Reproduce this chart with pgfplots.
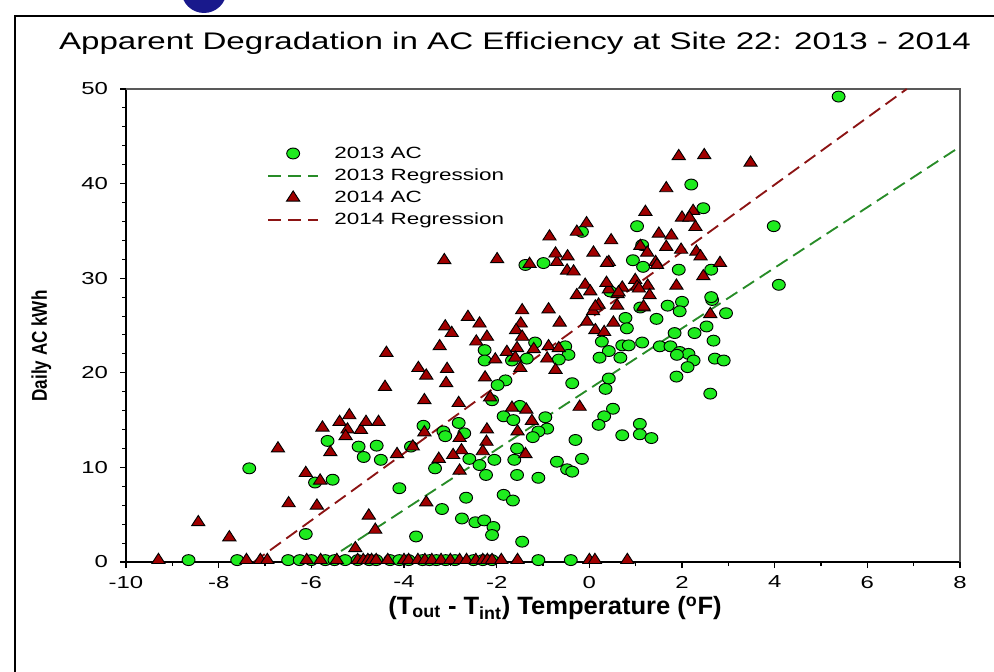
\documentclass[border=0pt]{standalone}
\usepackage{fontspec}
\setmainfont{Liberation Sans}[FakeStretch=1.38]
\newfontfamily\boldlabx{Liberation Sans}[FakeStretch=1.02]
\newfontfamily\boldlaby{Liberation Sans}[FakeStretch=0.8]
\usepackage{pgfplots}
\usepackage{pgfplotstable}
\pgfplotsset{compat=1.18}
\definecolor{ptgreen}{RGB}{30,235,30}
\definecolor{ptred}{RGB}{160,0,0}
\definecolor{lngreen}{RGB}{40,140,40}
\definecolor{lnred}{RGB}{140,20,20}
\definecolor{navy}{RGB}{25,25,140}

\pgfplotstableread{
x y
-8.65 0.2
-7.6 0.2
-6.5 0.2
-6.25 0.2
-6.0 0.2
-5.7 0.2
-5.5 0.2
-5.27 0.2
-5.0 0.2
-4.75 0.2
-4.6 0.2
-4.3 0.2
-4.1 0.2
-3.9 0.2
-3.6 0.2
-3.45 0.2
-3.3 0.2
-3.1 0.2
-2.9 0.2
-2.5 0.2
-2.3 0.2
-2.1 0.2
-1.1 0.2
-0.4 0.2
-7.34 9.9
-6.12 2.96
-5.65 12.8
-4.98 12.2
-4.59 12.3
-4.87 11.1
-4.50 10.8
-5.92 8.4
-5.54 8.7
-4.1 7.8
-1.17 23.2
-0.52 22.8
-0.45 21.9
-2.26 22.4
-2.26 21.3
-1.67 21.3
-1.35 21.5
-0.66 21.4
-1.81 19.2
-1.98 18.7
-0.37 18.9
-2.1 17.1
-1.5 16.5
-1.85 15.4
-1.64 15.0
-0.95 15.3
-0.91 14.1
-1.1 13.8
-1.22 13.2
-2.82 14.7
-2.7 13.6
-3.15 13.8
-3.11 13.3
-3.58 14.4
-3.85 12.2
-1.56 12.0
-1.62 10.8
-2.59 10.9
-2.37 10.25
-2.05 10.8
-2.23 9.2
-3.33 9.9
-1.56 9.2
-1.1 8.9
-0.7 10.6
-0.48 9.8
-0.37 9.55
-0.3 12.9
-0.16 10.9
-2.66 6.8
-3.18 5.6
-1.85 7.1
-1.65 6.5
-2.75 4.6
-2.46 4.2
-2.27 4.4
-2.07 3.7
-2.1 2.85
-3.74 2.7
-1.45 2.15
1.69 27.1
2.0 27.5
1.95 26.5
1.45 25.7
1.1 26.9
0.78 25.8
0.81 24.7
2.65 27.7
2.95 26.3
2.53 24.9
2.27 24.2
1.84 24.2
2.68 23.4
1.14 23.2
1.52 22.8
1.75 22.8
1.95 22.2
2.14 22.0
1.89 21.9
2.25 21.3
2.12 20.6
2.71 21.5
2.9 21.3
1.88 19.6
2.61 17.8
0.27 23.3
0.42 22.3
0.22 21.6
0.67 21.6
0.71 22.9
0.85 22.9
0.42 19.4
0.35 18.3
0.51 16.2
0.32 15.4
0.2 14.5
0.71 13.4
1.09 14.6
1.09 13.5
1.34 13.1
-1.38 31.4
-0.99 31.6
-0.16 34.9
2.2 39.9
2.46 37.4
1.03 35.5
1.14 33.5
3.98 35.5
0.94 31.9
1.16 31.2
1.93 30.9
2.63 30.9
4.09 29.3
2.63 28.0
0.45 28.6
5.38 49.2
}\dataA

\pgfplotstableread{
x y
-9.3 0.2
-7.4 0.2
-7.1 0.2
-6.95 0.2
-6.1 0.2
-5.8 0.2
-5.45 0.2
-5.0 0.2
-4.88 0.2
-4.78 0.2
-4.7 0.2
-4.6 0.2
-4.35 0.2
-4.0 0.2
-3.9 0.2
-3.7 0.2
-3.55 0.2
-3.4 0.2
-3.2 0.2
-3.0 0.2
-2.8 0.2
-2.65 0.2
-2.45 0.2
-2.3 0.2
-2.2 0.2
-2.1 0.2
-1.9 0.2
-1.55 0.2
0.0 0.2
0.12 0.2
0.82 0.2
-8.44 4.2
-7.77 2.6
-6.72 12.0
-6.49 6.2
-6.12 9.4
-5.81 8.6
-5.88 5.95
-5.76 14.2
-5.59 11.6
-5.39 14.8
-5.18 15.5
-5.22 14.0
-5.26 13.3
-4.93 13.95
-4.82 14.8
-4.55 14.8
-4.38 22.1
-4.41 18.5
-4.15 11.4
-4.76 4.9
-4.62 3.4
-5.05 1.45
-2.62 25.9
-2.37 25.2
-3.11 24.9
-2.97 24.2
-1.45 26.6
-0.88 26.7
-0.64 25.3
-1.48 25.2
-1.58 24.5
-1.45 23.8
-3.23 22.8
-2.44 23.3
-2.21 23.8
-1.78 22.2
-1.56 22.6
-1.2 22.5
-0.88 22.8
-0.66 22.6
-2.03 21.4
-1.6 21.6
-1.49 20.5
-0.91 21.5
-0.73 20.3
-3.69 20.5
-3.52 19.7
-3.07 20.4
-3.09 18.9
-2.25 19.5
-2.14 17.4
-3.56 17.1
-2.82 16.8
-1.67 16.3
-1.36 16.1
-1.24 14.9
-0.21 16.4
-1.55 13.8
-2.21 14.0
-2.22 12.7
-2.8 13.1
-2.76 11.8
-3.56 13.7
-3.81 12.2
-3.25 10.9
-2.94 11.3
-2.3 11.7
-1.38 11.4
-2.8 9.65
-3.52 6.3
2.61 26.2
1.17 26.9
0.52 25.3
0.6 27.1
0.2 27.2
0.08 26.5
-0.05 25.4
0.13 24.5
0.32 24.3
-3.13 31.9
-1.99 32.0
-1.29 31.5
-0.7 31.7
-0.73 32.6
-0.47 32.3
-0.86 34.4
-0.27 34.9
-0.06 35.8
0.09 32.7
-0.48 30.8
-0.34 30.7
-0.09 29.3
0.02 28.6
-0.27 28.2
1.93 42.9
2.48 43.0
3.48 42.2
1.66 39.5
1.21 37.0
2.24 37.1
2.0 36.4
2.16 36.4
2.29 35.4
0.47 34.0
1.5 34.7
1.77 34.5
1.1 33.4
1.66 33.3
1.98 33.0
2.31 32.8
2.4 32.3
0.42 31.7
1.25 32.7
1.43 31.7
1.46 31.4
2.82 31.6
2.46 30.2
0.99 29.8
1.26 29.2
1.03 29.1
1.88 29.2
0.71 29.0
0.42 28.8
0.61 28.3
1.3 28.2
0.37 29.5
0.63 28.5
1.07 28.9
1.17 27.0
0.13 27.0
0.38 31.6
}\dataB

\begin{document}
\begin{tikzpicture}
\path[use as bounding box] (0,0) rectangle (745.5pt,503.25pt);
\fill[navy] (153pt,510.5pt) circle (17pt);
\draw[line width=1.5pt] (11.25pt,-5pt) -- (11.25pt,491.25pt) -- (760pt,491.25pt);
\node[font=\fontsize{18}{21}\selectfont] at (386.25pt,471pt) {Apparent Degradation in AC Efficiency at Site 22: 2013 - 2014};
\node[font=\boldlabx\bfseries\fontsize{18.8}{22}\selectfont] at (416.25pt,47.25pt) {(T\textsubscript{out} - T\textsubscript{int}) Temperature (\textsuperscript{o}F)};
\node[rotate=90,font=\boldlaby\bfseries\fontsize{16}{19}\selectfont] at (31pt,243.75pt) {Daily AC kWh};
\begin{axis}[
  at={(94.5pt,81.75pt)}, anchor=south west,
  scale only axis, width=625.5pt, height=354.75pt,
  xmin=-10, xmax=8, ymin=0, ymax=50,
  axis x line*=bottom, axis y line*=left,
  axis line style={line width=1pt, black},
  xtick={-10,-8,...,8}, minor xtick={-9,-7,...,7},
  ytick={0,10,...,50}, minor ytick={2,4,6,8,12,14,16,18,22,24,26,28,32,34,36,38,42,44,46,48},
  tick align=outside,
  major tick length=4.5pt, minor tick length=3pt,
  every tick/.style={black, line width=0.8pt},
  tick label style={font=\fontsize{13}{15}\selectfont},
  xticklabel style={yshift=-2.5pt},
  yticklabel style={xshift=-5.5pt},
  /pgf/number format/assume math mode=true,
  clip=false,
  legend style={draw=none, fill=none, at={(0.169,0.884)}, anchor=north west,
    font=\fontsize{12.2}{14}\selectfont, row sep=2.4pt, inner sep=0pt},
  legend cell align=left,
  legend image code/.code={\draw[mark repeat=2,mark phase=2,#1] plot coordinates {(0pt,0pt) (18.75pt,0pt) (37.5pt,0pt)}; \path (47pt,0pt);},
]
\draw[black!65, line width=1pt] (rel axis cs:0,1) -- (rel axis cs:1,1) -- (rel axis cs:1,0);
\addplot[only marks, mark=*, mark size=4.1pt, mark options={fill=ptgreen, draw=black, line width=0.7pt, xscale=1.18}] table[x=x,y=y] {\dataA};
\addlegendentry{2013 AC}
\addplot[lngreen, line width=1.4pt, dash pattern=on 10pt off 5pt] coordinates {(-5.72,0) (8,43.9)};
\addlegendentry{2013 Regression}
\addplot[only marks, mark=triangle*, mark size=5.1pt, mark options={fill=ptred, draw=black, line width=0.7pt, xscale=1.12}] table[x=x,y=y] {\dataB};
\addlegendentry{2014 AC}
\addplot[lnred, line width=1.4pt, dash pattern=on 10pt off 5pt] coordinates {(-7.24,0) (6.85,50)};
\addlegendentry{2014 Regression}
\end{axis}
\end{tikzpicture}
\end{document}
